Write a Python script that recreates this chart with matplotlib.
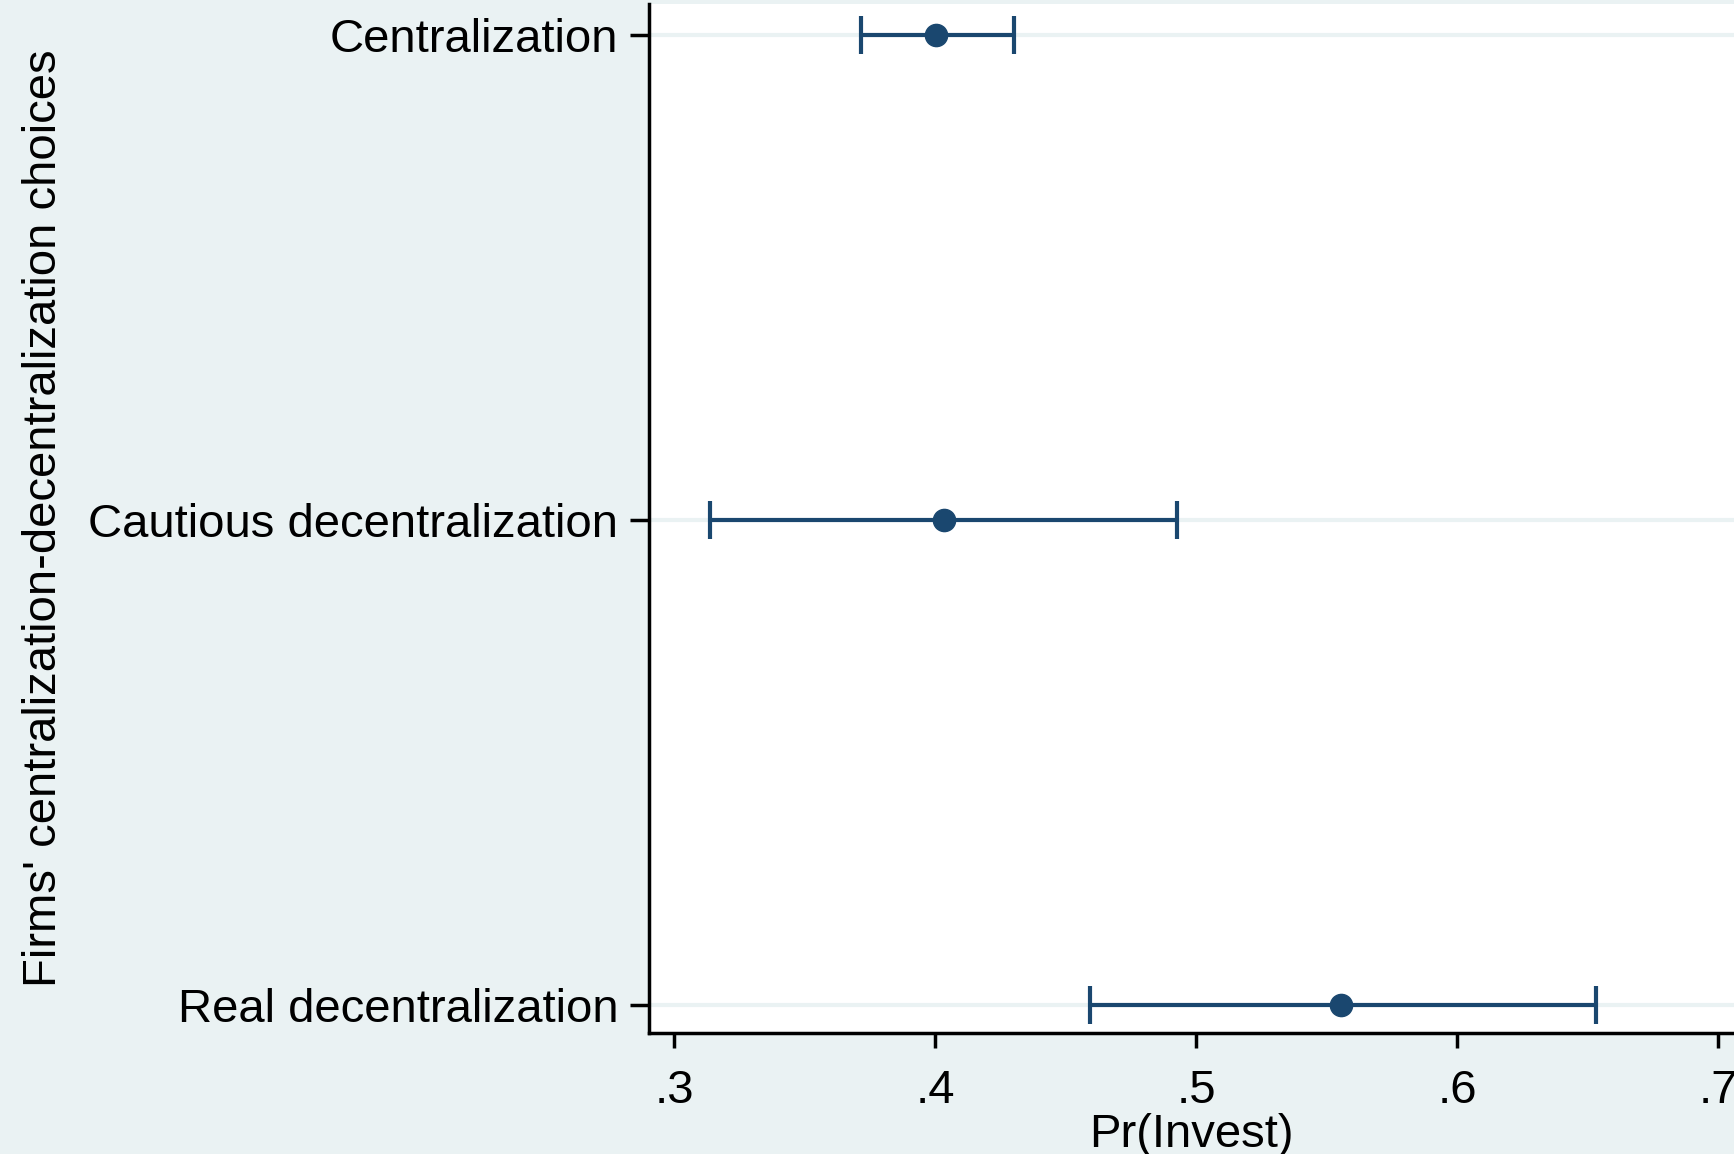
import numpy as np
import matplotlib
matplotlib.use("Agg")
import matplotlib.pyplot as plt

# margins-style estimates
categories = ["Real decentralization", "Cautious decentralization", "Centralization"]
estimates = [0.5555, 0.4034, 0.4002]
ci_low = [0.4593, 0.3136, 0.3716]
ci_high = [0.6533, 0.4928, 0.4304]
xticks = [0.3, 0.4, 0.5, 0.6, 0.7]
xtick_labels = [".3", ".4", ".5", ".6", ".7"]

bg = "#eaf2f3"
navy = "#1a476f"

plt.rcParams['font.family'] = ['Liberation Sans', 'DejaVu Sans']

fig = plt.figure(figsize=(17.34, 11.54), dpi=100, facecolor=bg)
ax = fig.add_axes([649 / 1734, 121 / 1154, 1 - 649 / 1734, 1029 / 1154])
ax.set_facecolor("white")

ypos = np.arange(1, len(categories) + 1)
est = np.array(estimates)
lo = np.array(ci_low)
hi = np.array(ci_high)

for y in ypos:
    ax.axhline(y, color=bg, lw=3, zorder=0)

ax.errorbar(est, ypos, xerr=[est - lo, hi - est], fmt="none", ecolor=navy,
            elinewidth=3, capsize=14, capthick=3, zorder=2)
ax.plot(est, ypos, "o", color=navy, ms=16, mec=navy, zorder=3)

ax.set_xlim(0.2904, 0.7061)
ax.set_ylim(0.942, 3.064)
ax.set_xticks(xticks)
ax.set_xticklabels(xtick_labels)
ax.set_yticks(ypos)
ax.set_yticklabels(categories)

for s in ["top", "right"]:
    ax.spines[s].set_visible(False)
for s in ["left", "bottom"]:
    ax.spines[s].set_linewidth(2.5)
    ax.spines[s].set_color("black")

ax.tick_params(axis="y", length=14, width=2.5, pad=8, labelsize=34)
ax.tick_params(axis="x", length=11, width=2.5, pad=15, labelsize=34)

ax.set_xlabel("Pr(Invest)", fontsize=34, labelpad=0)
ax.set_ylabel("Firms' centralization-decentralization choices", fontsize=34, labelpad=16)

fig.savefig("out.png", dpi=100, facecolor=bg)
